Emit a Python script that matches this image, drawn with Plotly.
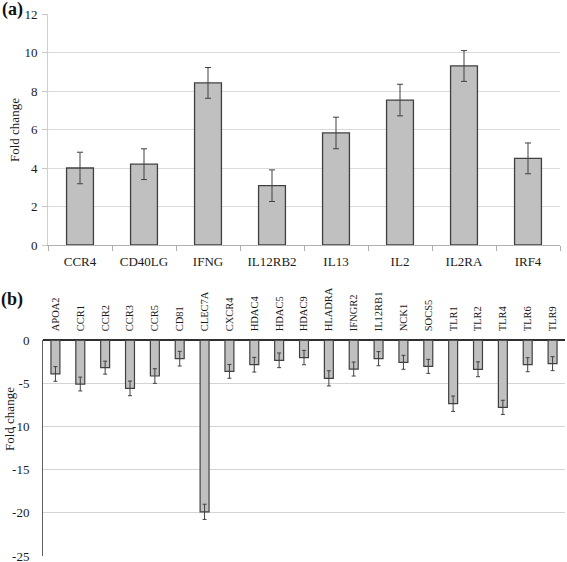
import plotly.graph_objects as go

# Panel (a)
genes_a = ["CCR4", "CD40LG", "IFNG", "IL12RB2", "IL13", "IL2", "IL2RA", "IRF4"]
fold_a = [4.0, 4.2, 8.42, 3.08, 5.82, 7.53, 9.3, 4.5]
err_a = [0.82, 0.8, 0.8, 0.82, 0.82, 0.82, 0.8, 0.8]
yticks_a = [0, 2, 4, 6, 8, 10, 12]

# Panel (b)
genes_b = ["APOA2", "CCR1", "CCR2", "CCR3", "CCR5", "CD81", "CLEC7A", "CXCR4",
           "HDAC4", "HDAC5", "HDAC9", "HLADRA", "IFNGR2", "IL12RB1", "NCK1",
           "SOCS5", "TLR1", "TLR2", "TLR4", "TLR6", "TLR9"]
fold_b = [-3.9, -5.07, -3.17, -5.57, -4.14, -2.13, -19.88, -3.6,
          -2.83, -2.32, -2.0, -4.41, -3.33, -2.13, -2.55,
          -3.02, -7.35, -3.36, -7.77, -2.83, -2.71]
err_b = [0.85, 0.8, 0.75, 0.85, 0.85, 0.85, 0.88, 0.8,
         0.85, 0.85, 0.83, 0.88, 0.81, 0.82, 0.81,
         0.81, 0.89, 0.86, 0.82, 0.81, 0.81]
yticks_b = [0, -5, -10, -15, -20, -25]
yticklabels_b = ["0", "-5", "-10", "-15", "-20", "-25"]

W, H = 567, 562
FONT = "Liberation Serif, Times New Roman, serif"
BAR_FILL = "#c0c0c0"
EDGE = "#404040"

def px(x):
    return x / W

def py(y):
    return 1 - y / H

fig = go.Figure()

fig.add_trace(go.Bar(
    x=genes_a, y=fold_a, width=0.42,
    marker=dict(color=BAR_FILL, line=dict(color=EDGE, width=1.3)),
    error_y=dict(type="data", array=err_a, visible=True, color=EDGE, thickness=1, width=3),
    xaxis="x", yaxis="y", showlegend=False,
))

fig.add_trace(go.Bar(
    x=genes_b, y=fold_b, width=0.36,
    marker=dict(color=BAR_FILL, line=dict(color=EDGE, width=1.2)),
    error_y=dict(type="data", array=err_b, visible=True, color=EDGE, thickness=1, width=2),
    xaxis="x2", yaxis="y2", showlegend=False,
))

fig.update_layout(
    template="none",
    width=W, height=H,
    margin=dict(l=0, r=0, t=0, b=0, autoexpand=False),
    paper_bgcolor="white", plot_bgcolor="white",
    font=dict(family=FONT, size=13, color="#1a1a1a"),
    xaxis=dict(
        domain=[px(48), px(560)], anchor="y", automargin=False,
        showline=True, linecolor="#b0b0b0", linewidth=1,
        ticks="outside", tickson="boundaries", ticklen=5, tickcolor="#b0b0b0",
        showgrid=False, tickfont=dict(size=13, family=FONT),
        ticklabelstandoff=4, ticklabeloverflow="allow",
    ),
    yaxis=dict(
        domain=[py(245), py(14)], anchor="x", automargin=False,
        range=[0, 12], tickvals=yticks_a,
        showline=True, linecolor="#d0d0d0", linewidth=1,
        ticks="outside", ticklen=5, tickcolor="#c8c8c8",
        showgrid=True, gridcolor="#dcdcdc", gridwidth=1,
        zeroline=False, tickfont=dict(size=13, family=FONT),
        ticklabelstandoff=2, ticklabeloverflow="allow",
    ),
    xaxis2=dict(
        domain=[px(43), px(565)], anchor="y2", side="top", automargin=False,
        showline=False, ticks="", showgrid=False,
        tickangle=-90, tickfont=dict(size=10.5, family=FONT),
        ticklabelstandoff=8, ticklabeloverflow="allow",
    ),
    yaxis2=dict(
        domain=[py(556), py(340.3)], anchor="x2", automargin=False,
        range=[-25, 0], tickvals=yticks_b, ticktext=yticklabels_b,
        showline=True, linecolor="#606060", linewidth=1,
        ticks="", showgrid=True, gridcolor="#d4d4d4", gridwidth=1,
        zeroline=True, zerolinecolor="#303030", zerolinewidth=1.5,
        tickfont=dict(size=13, family=FONT),
        ticklabelstandoff=10, ticklabeloverflow="allow",
    ),
    annotations=[
        dict(text="<b>(a)</b>", x=px(12), y=py(9), xref="paper", yref="paper",
             xanchor="center", yanchor="middle",
             showarrow=False, font=dict(size=18, family=FONT, color="#111111")),
        dict(text="<b>(b)</b>", x=px(12), y=py(299), xref="paper", yref="paper",
             xanchor="center", yanchor="middle",
             showarrow=False, font=dict(size=18, family=FONT, color="#111111")),
        dict(text="Fold change", x=px(14), y=py(130), xref="paper", yref="paper",
             xanchor="center", yanchor="middle",
             showarrow=False, textangle=-90, font=dict(size=13, family=FONT)),
        dict(text="Fold change", x=px(9), y=py(419), xref="paper", yref="paper",
             xanchor="center", yanchor="middle",
             showarrow=False, textangle=-90, font=dict(size=13, family=FONT)),
    ],
)

# remove the default 8px page margin so the figure fills the window exactly
fig.write_html(
    "out.html",
    config={"displayModeBar": False},
    post_script="document.body.style.margin='0';document.documentElement.style.overflow='hidden';",
)
